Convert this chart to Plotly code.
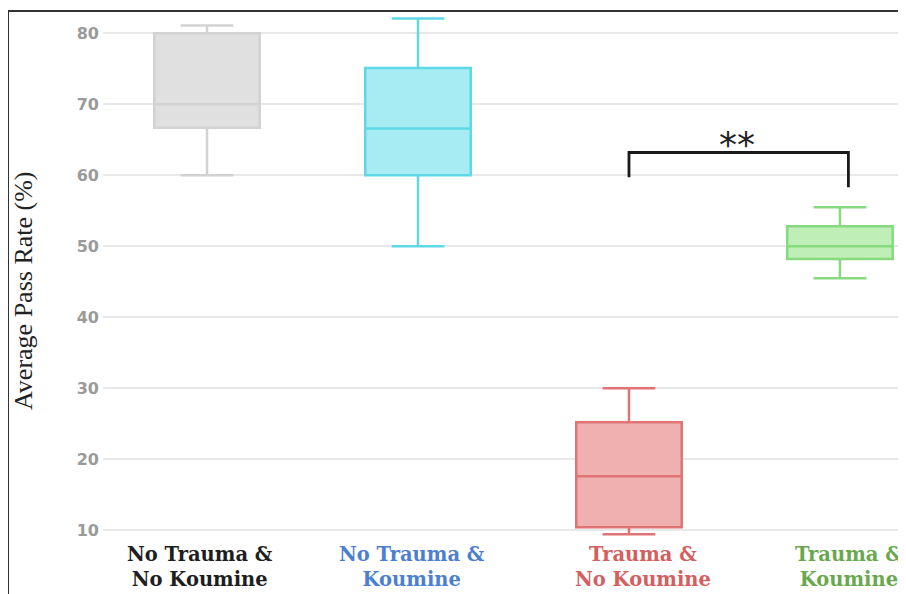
import plotly.graph_objects as go

categories = ["No Trauma &<br>No Koumine", "No Trauma &<br>Koumine", "Trauma &<br>No Koumine", "Trauma &<br>Koumine"]
positions = [0, 1, 2, 3]
lower_fence = [60.0, 50.0, 9.4, 45.5]
q1 = [66.7, 60.0, 10.4, 48.2]
median = [70.0, 66.6, 17.6, 50.0]
q3 = [80.0, 75.1, 25.2, 52.8]
upper_fence = [81.1, 82.1, 30.0, 55.5]
y_ticks = [10, 20, 30, 40, 50, 60, 70, 80]

line_colors = ["#d2d2d2", "#5fd8e6", "#e07474", "#85d97f"]
fill_colors = ["#e0e0e0", "#a8ecf3", "#efb0b0", "#bfeeb6"]
label_colors = ["#1e1e1e", "#4d7fd0", "#d45f5f", "#6aa84f"]
label_shift = [-7, -6, 14, 9]

# significance bracket between groups 3 and 4
bracket_x = [2.0, 2.0, 3.04, 3.04]
bracket_y = [59.7, 63.2, 63.2, 58.3]
sig_text = "**"

fig = go.Figure()
for i in range(4):
    fig.add_trace(go.Box(
        x=[positions[i]], q1=[q1[i]], median=[median[i]], q3=[q3[i]],
        lowerfence=[lower_fence[i]], upperfence=[upper_fence[i]],
        width=0.5, whiskerwidth=0.5,
        line=dict(color=line_colors[i], width=2.5),
        fillcolor=fill_colors[i], boxpoints=False, showlegend=False,
        hoverinfo="skip",
    ))

fig.add_trace(go.Scatter(
    x=bracket_x, y=bracket_y, mode="lines",
    line=dict(color="#1a1a1a", width=2.8), showlegend=False, hoverinfo="skip",
))
fig.add_annotation(x=2.51, y=63.2, text=sig_text, showarrow=False,
                   yanchor="bottom", yshift=-14,
                   font=dict(family="DejaVu Sans", size=36, color="#222"))

for i in range(4):
    fig.add_annotation(x=positions[i], y=0, xref="x", yref="paper", yanchor="top",
                       yshift=-1, xshift=label_shift[i],
                       text="<b>" + categories[i] + "</b>", showarrow=False,
                       font=dict(family="DejaVu Serif", size=19.5, color=label_colors[i]),
                       align="center")

fig.add_annotation(x=-0.0984, y=0.4716, xref="paper", yref="paper",
                   xanchor="center", yanchor="middle",
                   text="Average Pass Rate (%)", textangle=-90, showarrow=False,
                   font=dict(family="Liberation Serif", size=26, color="#222"))

# frame lines (left and top)
fig.add_shape(type="path", xref="paper", yref="paper",
              path="M -0.1183 -0.2 L -0.1183 1.002 L 1.1 1.002",
              line=dict(color="#333333", width=2))

fig.update_layout(
    width=906, height=594,
    margin=dict(l=95, r=8, t=4, b=62),
    plot_bgcolor="white", paper_bgcolor="white",
    xaxis=dict(range=[-0.493, 3.313], showticklabels=False, showgrid=False,
               zeroline=False, showline=False, ticks=""),
    yaxis=dict(range=[8.6, 83.0], tickvals=y_ticks, showgrid=True,
               gridcolor="#e8e8e8", gridwidth=2, zeroline=False, showline=False,
               tickfont=dict(family="DejaVu Sans", size=16, color="#9a9a9a", weight="bold"),
               ticks="", ticklabelstandoff=3),
)

fig.write_html("out.html")
